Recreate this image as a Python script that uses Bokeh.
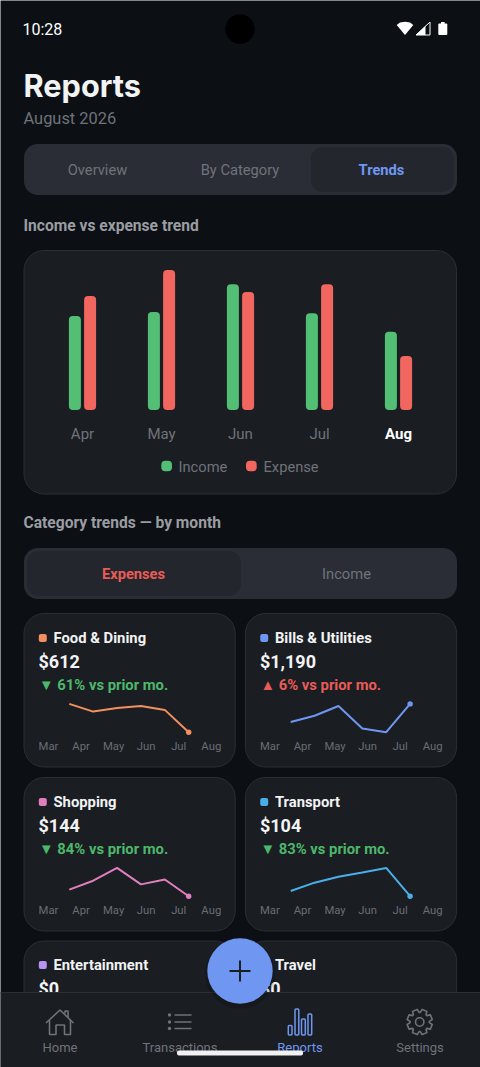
import math
from bokeh.plotting import figure
from bokeh.core.properties import value
from bokeh.models import Range1d, LinearAxis, FixedTicker
from bokeh.embed import file_html
from bokeh.resources import INLINE

# ---- data ----
months = ["Apr", "May", "Jun", "Jul", "Aug"]
income = [3357, 3500, 4489, 3453, 2796]
expense = [4071, 5000, 4214, 4489, 1929]
spark_months = ["Mar", "Apr", "May", "Jun", "Jul", "Aug"]
food = [1826, 1496, 1654, 1740, 1569, 612]
bills = [1147, 1162, 1185, 1132, 1123, 1190]
shopping = [442, 843, 1421, 678, 900, 144]
transport = [198, 347, 453, 529, 612, 104]
category_names = ["Food & Dining", "Bills & Utilities", "Shopping", "Transport"]
category_totals = ["$612", "$1,190", "$144", "$104"]
category_deltas = ["▼ 61% vs prior mo.", "▲ 6% vs prior mo.", "▼ 84% vs prior mo.", "▼ 83% vs prior mo."]

# ---- palette ----
BG = "#0c0f13"; CARD = "#1a1d22"; EDGE = "#2b2e34"; TRACK = "#2a2d35"; PILL = "#23262c"
MUTED = "#6f737a"; HEAD = "#9a9da2"; WHITE = "#f2f3f4"; BLUE = "#6f97f2"
GREEN = "#53BF75"; RED = "#F26660"; GOOD = "#4db86b"; BAD = "#e85c57"
FONT = "Roboto"

X0, X1, Y0, Y1 = 0.5, 480.5, 0.5, 1067.5


def mapped(v0, px0, v1, px1, f0, f1):
    k = (v1 - v0) / (px1 - px0)
    return Range1d(v0 + (f0 - px0) * k, v0 + (f1 - px0) * k)


p = figure(width=480, height=1067, output_backend="svg", toolbar_location=None,
           x_range=Range1d(X0, X1), y_range=Range1d(Y1, Y0),
           x_axis_type=None, y_axis_type=None, min_border=0, outline_line_color=None,
           background_fill_color=BG, border_fill_color=BG)
p.grid.visible = False


def box(l, r, t, b, fill, radius=0, line=None, width=1):
    p.quad(left=[l], right=[r], top=[t], bottom=[b], fill_color=fill, line_color=line,
           line_width=width, border_radius=radius)


def label(x, y, s, size=14.7, color=WHITE, bold=False, align="left", font=FONT):
    if align == "left":
        x -= 0.5
    p.text(x=[x], y=[y], text=[s], text_font=value(font), text_font_size=f"{size}px", text_color=color,
           text_font_style="bold" if bold else "normal", text_align=align, text_baseline="middle")


def month_axis(range_name, location, ticks, overrides, size, color, standoff, bold=False):
    ax = LinearAxis(x_range_name=range_name, fixed_location=location, ticker=FixedTicker(ticks=ticks),
                    major_label_overrides=overrides, major_label_text_font=FONT,
                    major_label_text_font_size=f"{size}px", major_label_text_color=color,
                    major_label_text_font_style="bold" if bold else "normal",
                    major_label_standoff=standoff, axis_line_color=None,
                    major_tick_line_color=None, minor_tick_line_color=None)
    p.add_layout(ax, "below")


# ---- status bar ----
label(23, 29, "10:28", 16, "#ffffff")
p.circle(x=[240], y=[29], radius=14.7, fill_color="#000000", line_color=None)
p.patch([396.7, 400, 405, 410, 413.3, 405], [25, 22.6, 21.7, 22.6, 25, 35], fill_color="#ffffff", line_color=None)
p.patch([416, 430, 430], [35, 35, 22], fill_color=None, line_color="#ffffff", line_width=1)
p.patch([416, 425.5, 425.5], [35, 35, 26], fill_color="#ffffff", line_color=None)
box(438.3, 447.3, 35, 23.5, "#ffffff", 1)
box(441, 444.6, 24, 22, "#ffffff", 0)

# ---- header ----
label(24, 85.5, "Reports", 30.7, WHITE, True, font="Inter")
label(24, 118, "August 2026", 16.4, MUTED)
box(24, 457, 144, 195, TRACK, 14)
box(311, 454, 147, 192, PILL, 12)
label(97.5, 169.5, "Overview", 14.7, MUTED, align="center")
label(240, 169.5, "By Category", 14.7, MUTED, align="center")
label(381.5, 169.5, "Trends", 14.7, BLUE, True, align="center")
label(24, 226, "Income vs expense trend", 15.6, HEAD, True)

# ---- income vs expense bars ----
box(24, 456.5, 250.5, 494, CARD, 20, EDGE)
idx = list(range(len(months)))
p.extra_x_ranges["bars"] = mapped(0, 82.5, 4, 398.5, X0, X1)
p.extra_y_ranges["bars"] = mapped(0, 410, 5000, 270, Y1, Y0)
pitch = 79.0
p.vbar(x=[i - 7.6 / pitch for i in idx], top=income, bottom=0, width=12 / pitch, fill_color=GREEN,
       line_color=None, border_radius=4, x_range_name="bars", y_range_name="bars")
p.vbar(x=[i + 7.6 / pitch for i in idx], top=expense, bottom=0, width=12 / pitch, fill_color=RED,
       line_color=None, border_radius=4, x_range_name="bars", y_range_name="bars")
month_axis("bars", 410, idx[:-1], {i: months[i] for i in idx[:-1]}, 15, MUTED, 9)
month_axis("bars", 410, idx[-1:], {idx[-1]: months[-1]}, 15, "#ffffff", 9, True)
box(161.3, 172, 460.7, 471.3, GREEN, 4)
label(179, 466.5, "Income", 14.7, MUTED)
box(246, 256.7, 460.7, 471.3, RED, 4)
label(264, 466.5, "Expense", 14.7, MUTED)

# ---- category section ----
label(24, 523, "Category trends — by month", 15.6, HEAD, True)
box(24, 457, 548, 599, TRACK, 14)
box(27, 241, 551, 596, PILL, 12)
label(133.5, 574, "Expenses", 14.7, BAD, True, align="center")
label(346.5, 574, "Income", 14.7, MUTED, align="center")

series = [food, bills, shopping, transport]
colors = ["#F2905F", "#6F97F2", "#E17FBE", "#4CAEE8"]
delta_colors = [GOOD, BAD, GOOD, GOOD]
lefts = [24, 245.4, 24, 245.4]
tops = [613.5, 613.5, 777.5, 777.5]

for n, values in enumerate(series):
    cx, cy = lefts[n], tops[n]
    box(cx, cx + 211.2, cy, cy + 153.5, CARD, 20, EDGE)
    box(cx + 14.8, cx + 22.8, cy + 20.5, cy + 28.5, colors[n], 2)
    label(cx + 30, cy + 24.5, category_names[n], 14.8, WHITE, True)
    label(cx + 15, cy + 47.5, category_totals[n], 18, WHITE, True)
    label(cx + 15.5, cy + 71.5, category_deltas[n], 14.8, delta_colors[n], True)
    name = f"cat{n}"
    p.extra_x_ranges[name] = mapped(0, cx + 45.3, 5, cx + 164.7, X0, X1)
    p.extra_y_ranges[name] = mapped(min(values), cy + 118.7, max(values), cy + 90.4, Y1, Y0)
    xs = list(range(len(values)))
    p.line(xs, values, line_color=colors[n], line_width=2, x_range_name=name, y_range_name=name)
    p.scatter(x=xs[-1:], y=values[-1:], size=5.4, marker="circle", fill_color=colors[n], line_color=None,
              x_range_name=name, y_range_name=name)
    axis_name = f"axis{n}"
    p.extra_x_ranges[axis_name] = mapped(0, cx + 24.5, 5, cx + 187.3, X0, X1)
    ticks = list(range(len(spark_months)))
    month_axis(axis_name, cy + 120, ticks, dict(zip(ticks, spark_months)), 11.3, "#6a6e74", 0)

# ---- third row, cut by the navigation bar ----
box(24, 235.2, 941, 1030, CARD, 20, EDGE)
box(245.4, 456.6, 941, 1030, CARD, 20, EDGE)
box(38.8, 46.8, 961, 969, "#B794F0", 2)
label(54, 965, "Entertainment", 14.8, WHITE, True)
label(39, 988.5, "$0", 18, WHITE, True)
box(260.2, 268.2, 961, 969, "#45C4B0", 2)
label(275.4, 965, "Travel", 14.8, WHITE, True)
label(260.4, 988.5, "$0", 18, WHITE, True)

# ---- navigation bar ----
box(X0, X1, 992, Y1, CARD, 0)
p.segment(x0=[X0], x1=[X1], y0=[992.5], y1=[992.5], line_color=EDGE, line_width=1)
NAV = "#6f737a"
# home
p.multi_line([[46, 60, 73.5], [49.5, 49.5, 56, 56, 64.5, 64.5, 70.5, 70.5], [65, 65, 68, 68]],
             [[1023, 1010, 1023], [1020, 1034.5, 1034.5, 1025, 1025, 1034.5, 1034.5, 1020], [1013.5, 1011, 1011, 1017]],
             line_color=NAV, line_width=1.6)
# list
for yy in (1015, 1022, 1028.5):
    p.segment(x0=[174.5], x1=[191.5], y0=[yy], y1=[yy], line_color=NAV, line_width=1.6)
    p.circle(x=[169.5], y=[yy], radius=1.7, fill_color=NAV, line_color=None)
# bars
for l, r, t in ((288.3, 292, 1025.5), (295, 298.8, 1009), (301.5, 305.3, 1019), (308, 311.7, 1014)):
    box(l, r, t, 1035, None, 1, BLUE, 1.5)
# gear
gx, gy = [], []
for i in range(8):
    a = i * math.pi / 4 + math.pi / 8
    for da, rad in ((-0.33, 9.6), (-0.2, 12.8), (0.2, 12.8), (0.33, 9.6)):
        gx.append(419.7 + rad * math.cos(a + da))
        gy.append(1022 + rad * math.sin(a + da))
p.patch(gx, gy, fill_color=None, line_color=NAV, line_width=1.6, line_join="round")
p.circle(x=[419.7], y=[1022], radius=4.2, fill_color=None, line_color=NAV, line_width=1.6)
label(60, 1047, "Home", 13, NAV, align="center")
label(180, 1047, "Transactions", 13, NAV, align="center")
label(300, 1047, "Reports", 13, BLUE, align="center")
label(420, 1047, "Settings", 13, NAV, align="center")
box(177, 303, 1050.6, 1055.4, "#f1f1f1", 2)

# ---- floating button ----
p.circle(x=[240], y=[974], radius=35, fill_color="#000000", fill_alpha=0.15, line_color=None)
p.circle(x=[240], y=[971], radius=32.7, fill_color=BLUE, line_color=None)
p.segment(x0=[229.5, 240], x1=[250.5, 240], y0=[971, 960.5], y1=[971, 981.5], line_color="#1a1d22", line_width=2)

open("out.html", "w").write(file_html(p, INLINE))
